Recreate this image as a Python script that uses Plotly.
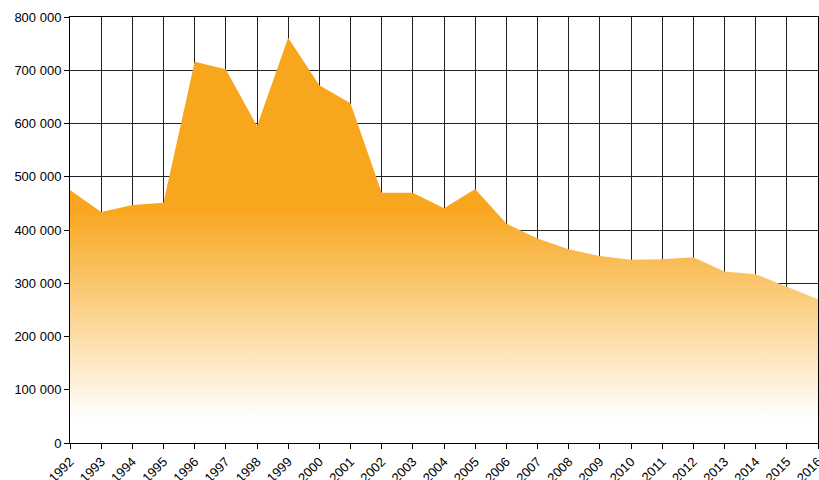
import plotly.graph_objects as go

years = list(range(1992, 2017))
values = [475000, 434000, 447000, 451000, 716000, 702000, 595000, 761000, 672000, 638000,
          470000, 470000, 441000, 477000, 412000, 384000, 364000, 351000, 344000, 345000,
          349000, 322000, 317000, 294000, 270000]
y_ticks = [0, 100000, 200000, 300000, 400000, 500000, 600000, 700000, 800000]

orange = "rgb(248,166,29)"

fig = go.Figure()
fig.add_trace(go.Scatter(
    x=years, y=values, mode="lines", line=dict(width=0, color=orange),
    fill="tozeroy",
    fillgradient=dict(type="vertical", start=0, stop=800000,
                      colorscale=[[0, "rgb(255,255,255)"], [0.06, "rgb(255,255,255)"],
                                  [0.55, orange], [1, orange]]),
    hoverinfo="x+y", showlegend=False,
))

fig.update_layout(
    width=819, height=480,
    margin=dict(l=70, r=1, t=17, b=37),
    plot_bgcolor="white", paper_bgcolor="white",
    separators=". ",
    font=dict(family="Liberation Sans, Arial, sans-serif", size=13, color="black"),
    xaxis=dict(range=[1992, 2016], tickvals=years, ticktext=[str(y) for y in years],
               tickangle=-45, showgrid=True, gridcolor="#222", gridwidth=1,
               showline=True, linecolor="black", linewidth=1, mirror=True,
               ticks="outside", ticklen=5, tickcolor="black", zeroline=False,
               automargin=False, ticklabeloverflow="allow"),
    yaxis=dict(range=[0, 800000], tickvals=y_ticks, tickformat=",d",
               showgrid=True, gridcolor="#222", gridwidth=1,
               showline=True, linecolor="black", linewidth=1, mirror=True,
               ticks="outside", ticklen=5, tickcolor="black", zeroline=False,
               automargin=False, ticklabeloverflow="allow"),
)

fig.write_html("out.html", config={"displayModeBar": False},
               post_script="document.body.style.margin='0';document.body.style.overflow='hidden';")
